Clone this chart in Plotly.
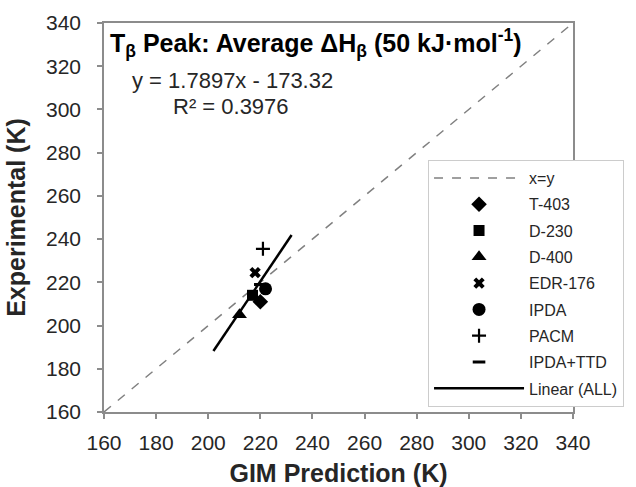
import plotly.graph_objects as go

# Data
series_names = ["T-403", "D-230", "D-400", "EDR-176", "IPDA", "PACM", "IPDA+TTD"]
gim_pred = [220, 217, 212, 218, 222, 221, 220]
experimental = [211, 214, 205, 224.5, 217, 235.5, 219]
fit_slope = 1.7897
fit_intercept = -173.32
fit_x_range = [202, 232]
diag = [160, 340]
x_ticks = list(range(160, 341, 20))
y_ticks = list(range(160, 341, 20))

symbols = ["diamond", "square", "triangle-up", "x", "circle", "cross-thin", "line-ew"]
sizes = [12, 11, 13, 10, 13, 10, 9]

FONT = "Liberation Sans, Arial, sans-serif"
L, R, T, B = 104, 599, 23, 412


def px_x(p):
    return (p - L) / (R - L)


def px_y(p):
    return (B - p) / (B - T)


fig = go.Figure()
fig.add_trace(go.Scatter(
    x=diag, y=diag, mode="lines", name="x=y", legendgroup="g0",
    line=dict(color="#808080", width=1.5, dash="dash")))

for i, (name, xv, yv, sym, sz) in enumerate(zip(series_names, gim_pred, experimental, symbols, sizes)):
    line_w = {"cross-thin": 2.2, "line-ew": 3}.get(sym, 0)
    fig.add_trace(go.Scatter(
        x=[xv], y=[yv], mode="markers", name=name, legendgroup=f"g{i+1}",
        marker=dict(symbol=sym, size=sz, color="black",
                    line=dict(color="black", width=line_w))))

fit_y = [fit_slope * v + fit_intercept for v in fit_x_range]
fig.add_trace(go.Scatter(
    x=fit_x_range, y=fit_y, mode="lines", name="Linear (ALL)", legendgroup="g9",
    line=dict(color="black", width=2.5)))

axis_common = dict(
    range=[160, 340], showgrid=False, zeroline=False, automargin=False,
    showline=True, linecolor="#8c8c8c", linewidth=1.5, mirror=True,
    ticks="outside", ticklen=5, tickcolor="#8c8c8c", tickwidth=1.5,
    tickfont=dict(family=FONT, size=21, color="#262626"),
)
fig.update_xaxes(**axis_common, tickvals=x_ticks, ticklabelstandoff=6,
                 title=dict(text="<b>GIM Prediction (K)</b>", standoff=14,
                            font=dict(family=FONT, size=25, color="#262626")))
fig.update_yaxes(**axis_common, tickvals=y_ticks, ticklabelstandoff=12,
                 title=dict(text="<b>Experimental (K)</b>", standoff=13,
                            font=dict(family=FONT, size=25, color="#262626")))

fig.add_annotation(
    x=px_x(108), y=px_y(43), xref="paper", yref="paper", xanchor="left", yanchor="middle",
    text="<b>T<sub>β</sub> Peak: Average ΔH<sub>β</sub> (50 kJ·mol<sup>-1</sup>)</b>",
    showarrow=False, font=dict(family=FONT, size=25, color="black"))
fig.add_annotation(
    x=px_x(131), y=px_y(80), xref="paper", yref="paper", xanchor="left", yanchor="middle",
    text="y = 1.7897x - 173.32", showarrow=False,
    font=dict(family=FONT, size=22, color="#262626"))
fig.add_annotation(
    x=px_x(175), y=px_y(106), xref="paper", yref="paper", xanchor="left", yanchor="middle",
    text="R² = 0.3976", showarrow=False,
    font=dict(family=FONT, size=22, color="#262626"))

fig.update_layout(
    width=636, height=487,
    margin=dict(l=L, r=636 - R, t=T, b=487 - B),
    paper_bgcolor="white", plot_bgcolor="white",
    font=dict(family=FONT, color="#262626"),
    legend=dict(
        x=px_x(446), y=px_y(160),
        xanchor="left", yanchor="top",
        bgcolor="white", bordercolor="#cccccc", borderwidth=1,
        font=dict(family=FONT, size=16, color="#262626"),
        itemwidth=90, tracegroupgap=2.5,
    ),
    showlegend=True,
)

fig.write_html("out.html",
               config={"displayModeBar": False},
               post_script="document.body.style.margin='0px';document.body.style.overflow='hidden';")
